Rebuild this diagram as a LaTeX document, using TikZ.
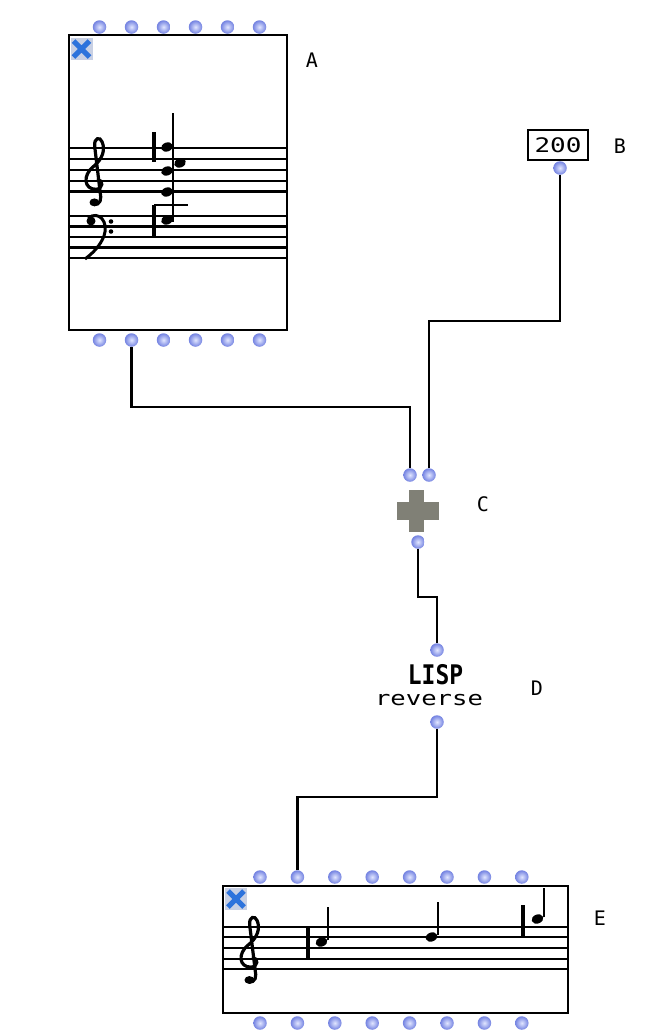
\documentclass[tikz,border=0pt]{standalone}
\usepackage{fontspec}
\newfontfamily\monof{DejaVu Sans Mono}
\definecolor{portin}{RGB}{225,230,255}
\definecolor{portout}{RGB}{115,130,225}
\definecolor{plusgray}{RGB}{128,128,118}
\definecolor{iconbg}{RGB}{200,208,228}
\definecolor{iconx}{RGB}{45,115,220}
\tikzset{
  port/.style={circle, inner sep=0pt, minimum size=13.5pt, shading=radial, inner color=portin, outer color=portout},
  wire/.style={line width=2.4pt, black},
  frame/.style={draw, line width=2.5pt, inner sep=0pt},
  stave/.style={line width=2.3pt, black},
  lab/.style={font=\monof\fontsize{20}{20}\selectfont, inner sep=0pt},
  closeicon/.style={fill=iconbg, minimum size=22pt, inner sep=0pt,
    path picture={\draw[iconx, line width=5pt]
      ([shift={(3pt,3pt)}]path picture bounding box.south west) -- ([shift={(-3pt,-3pt)}]path picture bounding box.north east)
      ([shift={(3pt,-3pt)}]path picture bounding box.north west) -- ([shift={(-3pt,3pt)}]path picture bounding box.south east);}},
  nh/.pic={\fill[rotate=20] (0,0) ellipse [x radius=6pt, y radius=4.5pt];},
  treble/.pic={
    \draw[line width=3.2pt, line cap=round] (0.15,0.1) .. controls (0.55,0.05) and (0.55,-0.75) .. (0,-0.8)
      .. controls (-0.9,-0.8) and (-1.0,0.5) .. (-0.2,1.3)
      .. controls (0.5,2.0) and (0.7,2.9) .. (0.45,3.6)
      .. controls (0.3,4.1) and (-0.15,4.0) .. (-0.1,3.2)
      -- (0.35,-1.5) .. controls (0.4,-2.1) and (-0.05,-2.4) .. (-0.35,-2.1);
    \fill (-0.12,-2.0) circle [radius=0.36];}
}
\begin{document}
\begin{tikzpicture}[x=1pt,y=-1pt]
\useasboundingbox[fill=white] (0,0) rectangle (649,1034);

% ---------- Box A ----------
\node[frame, minimum width=218pt, minimum height=295pt] (A) at (178,182.5) {};
\foreach \y in {148.3,159.1,169.9,180.7,191.5,216,226.6,237,247.4,257.8}
  \draw[stave] (69,\y) -- (287,\y);
\pic[xscale=13.5, yscale=-10.8] at (96,180.7) {treble};
% bass clef
\fill (91,221) circle [radius=4.5];
\draw[line width=3pt] (88,218) .. controls (99,210) and (109,222) .. (104,236) .. controls (100,246) and (93,253) .. (85,259);
\fill (111,221.5) circle [radius=2.3];
\fill (111,231.5) circle [radius=2.3];
% chord
\draw[line width=3.5pt] (154,132) -- (154,162);
\draw[line width=3.5pt] (154,205) -- (154,237);
\draw[line width=2.2pt] (154,205) -- (188,205);
\draw[line width=2pt] (173,113) -- (173,222);
\foreach \p in {(167,147),(167,171),(167,192),(167,220),(180,163)}
  \pic at \p {nh};
\node[closeicon] (Ax) at (81.5,49) {};
\foreach \i in {0,...,5} {
  \node[port] (Ai\i) at (99.5+32*\i,27) {};
  \node[port] (Ao\i) at (99.5+32*\i,340) {};
}
\node[lab] (Al) at (312,60) {A};

% ---------- B ----------
\node[frame, line width=2pt, minimum width=60pt, minimum height=30pt] (B) at (558,145)
  {\scalebox{1.3}[1]{\monof\fontsize{20}{20}\selectfont 200}};
\node[port] (Bo) at (560,168) {};
\node[lab] (Bl) at (620,146) {B};

% ---------- C ----------
\node[minimum size=42pt, inner sep=0pt] (C) at (418,511) {};
\fill[plusgray] (397,502) rectangle (439,520);
\fill[plusgray] (409,490) rectangle (424,532);
\node[port] (Ci1) at (410,475) {};
\node[port] (Ci2) at (429,475) {};
\node[port] (Co) at (418,542) {};
\node[lab] (Cl) at (483,504) {C};

% ---------- D ----------
\node[inner sep=0pt] (Dlisp) at (435.5,675) {\scalebox{0.85}[1]{\monof\bfseries\fontsize{27}{27}\selectfont LISP}};
\node[inner sep=0pt] (Drev) at (429,700) {\scalebox{1.28}[1]{\monof\fontsize{20}{20}\selectfont reverse}};
\node[port] (Di) at (437,650) {};
\node[port] (Do) at (437,722) {};
\node[lab] (Dl) at (537,688) {D};

% ---------- Box E ----------
\node[frame, minimum width=345pt, minimum height=127pt] (E) at (395.5,949.5) {};
\foreach \y in {926.7,937.3,948.1,958.7,969.3}
  \draw[stave] (223,\y) -- (568,\y);
\pic[xscale=13.5, yscale=-10.6] at (251,958.7) {treble};
\draw[line width=3.5pt] (308,927) -- (308,958);
\pic at (321.5,942) {nh};
\draw[line width=2pt] (327.5,907) -- (327.5,940);
\pic at (431.5,937) {nh};
\draw[line width=2pt] (437.5,902) -- (437.5,935);
\draw[line width=3.5pt] (523,905) -- (523,937);
\pic at (537.5,919) {nh};
\draw[line width=2pt] (543.5,888) -- (543.5,917);
\node[closeicon] (Ex) at (236,899) {};
\foreach \i in {0,...,7} {
  \node[port] (Ei\i) at (260+37.4*\i,877) {};
  \node[port] (Eo\i) at (260+37.4*\i,1023) {};
}
\node[lab] (El) at (600,918) {E};

% ---------- connectors ----------
\coordinate (w1) at (250,407);
\coordinate (w2) at (500,321);
\coordinate (w3) at (425,597);
\coordinate (w4) at (350,797);
\draw[wire] (Ao1) |- (w1) -| (Ci1);
\draw[wire] (Bo) |- (w2) -| (Ci2);
\draw[wire] (Co) |- (w3) -| (Di);
\draw[wire] (Do) |- (w4) -| (Ei1);
\end{tikzpicture}
\end{document}
